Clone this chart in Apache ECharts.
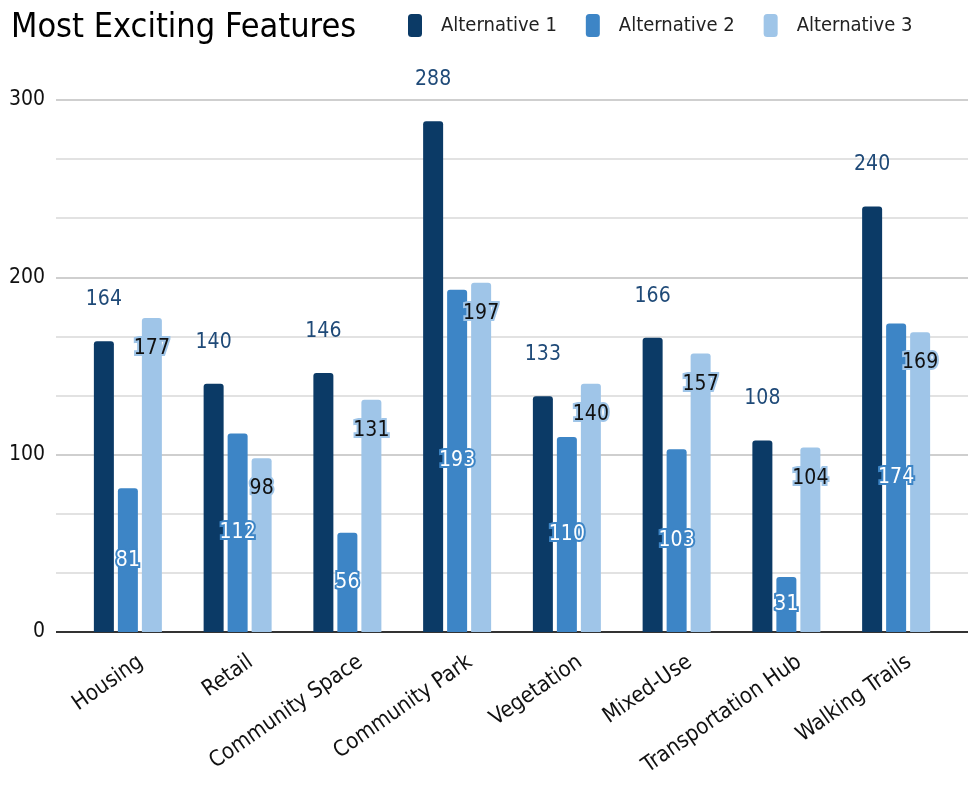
<!DOCTYPE html>
<html>
<head>
<meta charset="utf-8">
<style>
  html, body { margin: 0; padding: 0; background: #fff; }
  #main { width: 968px; height: 785px; }
</style>
<script src="https://cdn.jsdelivr.net/npm/echarts@6/dist/echarts.min.js"></script>
</head>
<body>
<div id="main"></div>
<script>
var categories = ['Housing', 'Retail', 'Community Space', 'Community Park',
    'Vegetation', 'Mixed-Use', 'Transportation Hub', 'Walking Trails'];
var seriesNames = ['Alternative 1', 'Alternative 2', 'Alternative 3'];
var alt1 = [164, 140, 146, 288, 133, 166, 108, 240];
var alt2 = [81, 112, 56, 193, 110, 103, 31, 174];
var alt3 = [177, 98, 131, 197, 140, 157, 104, 169];
var yTicks = [0, 100, 200, 300];

var FONT = "'Liberation Sans Narrow', 'DejaVu Sans Condensed', 'Liberation Sans', sans-serif";
var colors = ['#0b3a66', '#3d85c6', '#9fc5e8'];

// grid 0: gridlines + y labels (full width), grid 1: bars, grid 2: shifted x labels
var option = {
    textStyle: { fontFamily: FONT },
    title: {
        text: 'Most Exciting Features',
        left: 6,
        top: 6,
        textStyle: { fontFamily: FONT, fontSize: 34, fontWeight: 'normal', color: '#000' }
    },
    legend: {
        data: seriesNames,
        left: 403,
        top: 9,
        itemWidth: 14,
        itemHeight: 23,
        itemGap: 29,
        icon: 'roundRect',
        textStyle: { fontFamily: FONT, fontSize: 20, color: '#222', padding: [0, 0, 0, 14] }
    },
    grid: [
        { left: 56, right: 0, top: 100, bottom: 153 },
        { left: 73, right: 17, top: 100, bottom: 153 },
        { left: 86, right: 4, top: 100, bottom: 153 }
    ],
    xAxis: [
        { type: 'category', gridIndex: 0, data: [''], show: false },
        {
            type: 'category',
            gridIndex: 1,
            data: categories,
            axisLine: { show: false },
            axisTick: { show: false },
            axisLabel: { show: false }
        },
        {
            type: 'category',
            gridIndex: 2,
            data: categories,
            axisLine: { show: false },
            axisTick: { show: false },
            axisLabel: {
                rotate: 35, interval: 0, margin: 28,
                fontFamily: FONT, fontSize: 22, color: '#111'
            }
        }
    ],
    yAxis: [
        {
            type: 'value',
            gridIndex: 0,
            min: yTicks[0],
            max: yTicks[yTicks.length - 1],
            interval: 100,
            axisLine: { show: false },
            axisTick: { show: false },
            axisLabel: { margin: 11, fontFamily: FONT, fontSize: 21, color: '#111' },
            splitLine: {
                show: true,
                lineStyle: {
                    color: ['#333', '#cfcfcf', '#cfcfcf', '#cfcfcf'],
                    width: 2
                }
            },
            minorTick: { show: false, splitNumber: 3 },
            minorSplitLine: { show: true, lineStyle: { color: '#e2e2e2', width: 2 } }
        },
        {
            type: 'value',
            gridIndex: 1,
            min: yTicks[0],
            max: yTicks[yTicks.length - 1],
            interval: 100,
            show: false,
            splitLine: { show: false }
        },
        {
            type: 'value',
            gridIndex: 2,
            min: yTicks[0],
            max: yTicks[yTicks.length - 1],
            interval: 100,
            show: false,
            splitLine: { show: false }
        }
    ],
    series: [
        {
            name: seriesNames[0],
            type: 'bar',
            xAxisIndex: 1,
            yAxisIndex: 1,
            data: alt1,
            barWidth: 20,
            barGap: '20%',
            itemStyle: { color: colors[0], borderRadius: [3, 3, 0, 0] },
            label: {
                show: true,
                position: 'top',
                distance: 31,
                fontFamily: FONT,
                fontSize: 21,
                color: '#1f4a78'
            }
        },
        {
            name: seriesNames[1],
            type: 'bar',
            xAxisIndex: 1,
            yAxisIndex: 1,
            data: alt2,
            barWidth: 20,
            barGap: '20%',
            itemStyle: { color: colors[1], borderRadius: [3, 3, 0, 0] },
            label: {
                show: true,
                position: 'inside',
                fontFamily: FONT,
                fontSize: 21,
                color: '#fff',
                textBorderColor: colors[1],
                textBorderWidth: 4
            }
        },
        {
            name: seriesNames[2],
            type: 'bar',
            xAxisIndex: 1,
            yAxisIndex: 1,
            data: alt3,
            barWidth: 20,
            barGap: '20%',
            itemStyle: { color: colors[2], borderRadius: [3, 3, 0, 0] },
            label: {
                show: true,
                position: 'insideTop',
                distance: 20,
                fontFamily: FONT,
                fontSize: 21,
                color: '#111',
                textBorderColor: colors[2],
                textBorderWidth: 4
            }
        }
    ]
};

var chart = echarts.init(document.getElementById('main'));
chart.setOption(option);
</script>
</body>
</html>
